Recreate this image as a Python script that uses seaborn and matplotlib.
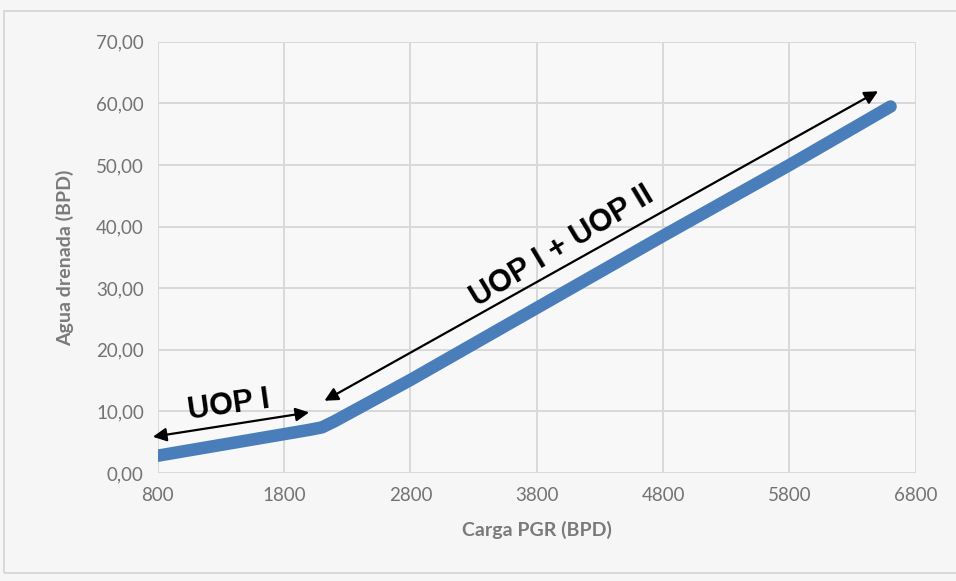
import matplotlib
matplotlib.use("Agg")
import matplotlib.pyplot as plt
import matplotlib.patches as patches
from matplotlib.ticker import FuncFormatter
import seaborn as sns
import pandas as pd

# Data
carga = [800, 1200, 1600, 2000, 2100, 2150, 2200, 2800, 3800, 4800, 5800, 6600]
agua = [2.8, 4.2, 5.6, 7.0, 7.4, 7.9, 8.4, 15.1, 26.8, 38.5, 50.0, 59.5]
x_ticks = [800, 1800, 2800, 3800, 4800, 5800, 6800]
y_ticks = [0, 10, 20, 30, 40, 50, 60, 70]

df = pd.DataFrame({"carga": carga, "agua": agua})

# Style
sns.set_theme(style="whitegrid")
plt.rcParams["font.family"] = ["Lato", "DejaVu Sans"]

fig = plt.figure(figsize=(9.56, 5.81), dpi=100, facecolor="#f6f6f6")
ax = fig.add_axes([0.165, 0.186, 0.793, 0.742])
ax.set_facecolor("#f8f8f8")

# outer chart frame
fig.patches.append(patches.Rectangle((4 / 956, 8 / 581), 1.0, 562 / 581,
                                     transform=fig.transFigure, fill=False,
                                     edgecolor="#d4d4d4", linewidth=1.2))

sns.lineplot(data=df, x="carga", y="agua", ax=ax, color="#4a7ebb",
             linewidth=9, solid_capstyle="round", solid_joinstyle="round")

ax.set_xlim(800, 6800)
ax.set_ylim(0, 70)
ax.set_xticks(x_ticks)
ax.set_yticks(y_ticks)
ax.yaxis.set_major_formatter(FuncFormatter(lambda v, p: f"{v:.2f}".replace(".", ",")))
ax.tick_params(axis="both", length=0, labelsize=13.5, colors="#737373", pad=10)
ax.grid(True, color="#d9d9d9", linewidth=1.4)
for s in ax.spines.values():
    s.set_visible(False)

ax.set_xlabel("Carga PGR (BPD)", fontsize=14, fontweight="bold", color="#7a7a7a", labelpad=12)
ax.set_ylabel("Agua drenada (BPD)", fontsize=14, fontweight="bold", color="#7a7a7a", labelpad=16)

# Annotations
arrow = dict(arrowstyle="<|-|>", color="black", lw=1.6, mutation_scale=20)
ax.annotate("", xy=(2020, 9.9), xytext=(740, 5.8), arrowprops=arrow)
ax.annotate("", xy=(6520, 62.2), xytext=(2100, 11.5), arrowprops=arrow)
ax.text(1360, 11.0, "UOP I", fontsize=22, fontweight="bold", rotation=8, color="black",
        ha="center", va="center", family=["Liberation Sans", "DejaVu Sans"])
ax.text(4000, 36.8, "UOP I + UOP II", fontsize=22, fontweight="bold", rotation=31, color="black",
        ha="center", va="center", family=["Liberation Sans", "DejaVu Sans"])

fig.savefig("out.png", dpi=100, facecolor=fig.get_facecolor())
